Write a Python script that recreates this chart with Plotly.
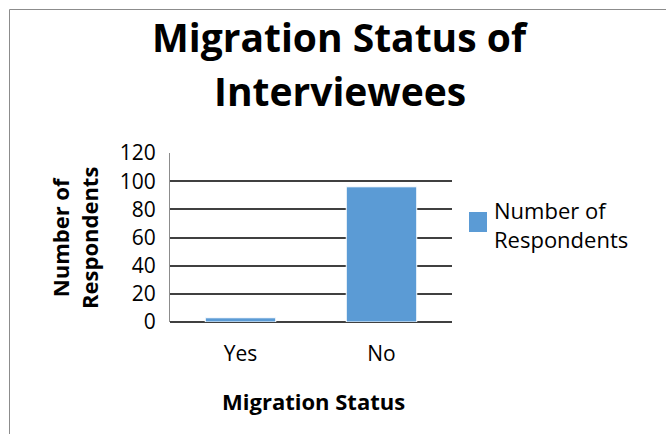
import plotly.graph_objects as go

categories = ["Yes", "No"]
respondents = [3, 96]
series_name = "Number of<br>Respondents"
y_ticks = [0, 20, 40, 60, 80, 100, 120]
title_lines = ["Migration Status of", "Interviewees"]
y_title = "Number of<br>Respondents"
x_title = "Migration Status"

FONT = "Open Sans"
BAR_COLOR = "#5B9BD5"
L, R, T, B = 170, 214, 153, 112
W, H = 666, 434
pw, ph = W - L - R, H - T - B

def px(x):
    return (x - L) / pw

def py(y):
    return (H - B - y) / ph

fig = go.Figure()
fig.add_trace(go.Bar(
    x=categories, y=respondents, name=series_name,
    marker=dict(color=BAR_COLOR, line=dict(color="white", width=1)),
    width=0.5, showlegend=False,
))

fig.update_layout(
    width=W, height=H,
    margin=dict(l=L, r=R, t=T, b=B, autoexpand=False),
    paper_bgcolor="white", plot_bgcolor="white",
    font=dict(family=FONT, color="#000000"),
    showlegend=False,
)
fig.update_xaxes(
    automargin=False, showgrid=False, showline=False, zeroline=False,
    tickfont=dict(size=21, family=FONT, color="#000"), ticks="",
    ticklabelstandoff=17,
)
fig.update_yaxes(
    automargin=False,
    range=[0, 120], tickvals=y_ticks, showgrid=True, gridcolor="#404040", gridwidth=1.5,
    zeroline=True, zerolinecolor="#404040", zerolinewidth=1.5,
    showline=True, linecolor="#8c8c8c", linewidth=1,
    tickfont=dict(size=21, family=FONT, color="#000"), ticks="", ticklabelstandoff=9,
)

# title (two lines)
fig.add_annotation(text="<b>%s</b>" % title_lines[0], xref="paper", yref="paper",
                   x=px(340), y=py(36), xanchor="center", yanchor="middle",
                   showarrow=False, font=dict(size=39, family=FONT, color="#000"))
fig.add_annotation(text="<b>%s</b>" % title_lines[1], xref="paper", yref="paper",
                   x=px(340), y=py(90), xanchor="center", yanchor="middle",
                   showarrow=False, font=dict(size=39, family=FONT, color="#000"))
# axis titles
fig.add_annotation(text="<b>%s</b>" % y_title, xref="paper", yref="paper",
                   x=px(74), y=py(238), xanchor="center", yanchor="middle", textangle=-90,
                   showarrow=False, font=dict(size=22, family=FONT, color="#000"))
fig.add_annotation(text="<b>%s</b>" % x_title, xref="paper", yref="paper",
                   x=px(313), y=py(401), xanchor="center", yanchor="middle",
                   showarrow=False, font=dict(size=22, family=FONT, color="#000"))
# legend
fig.add_shape(type="rect", xref="paper", yref="paper",
              x0=px(469), x1=px(487), y0=py(232), y1=py(212),
              line=dict(width=0), fillcolor=BAR_COLOR)
fig.add_annotation(text=series_name, xref="paper", yref="paper",
                   x=px(492), y=py(224), xanchor="left", yanchor="middle", align="left",
                   showarrow=False, font=dict(size=22, family=FONT, color="#000"))
# outer border
fig.add_shape(type="rect", xref="paper", yref="paper",
              x0=px(9.5), y0=py(H + 20), x1=px(W + 20), y1=py(9.5),
              line=dict(color="#8c8c8c", width=1), layer="below")

fig.write_html("out.html", config={"displayModeBar": False},
               post_script="document.body.style.margin='0';document.body.style.overflow='hidden';")
